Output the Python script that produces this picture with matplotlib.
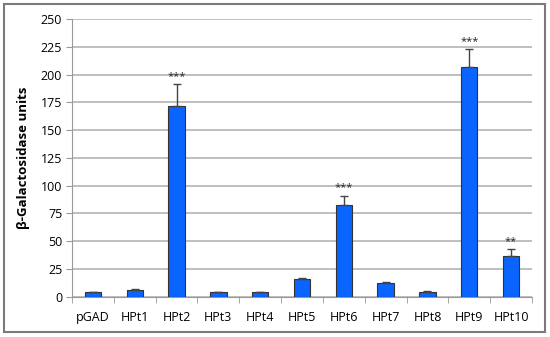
import matplotlib
matplotlib.use("Agg")
import matplotlib.pyplot as plt
from matplotlib.patches import Rectangle
import numpy as np

categories = ["pGAD", "HPt1", "HPt2", "HPt3", "HPt4", "HPt5", "HPt6", "HPt7", "HPt8", "HPt9", "HPt10"]
values = [4.0, 6.3, 172, 3.8, 3.8, 16.2, 82.5, 12.4, 4.6, 206.5, 37]
errors = [0.5, 0.5, 19.5, 0.4, 0.4, 1.0, 8.5, 0.4, 0.4, 16.5, 5.8]
stars = ["", "", "***", "", "", "", "***", "", "", "***", "**"]
yticks = [0, 25, 50, 75, 100, 125, 150, 175, 200, 225, 250]

plt.rcParams['font.family'] = ['Open Sans', 'DejaVu Sans']

fig = plt.figure(figsize=(5.5, 3.37), dpi=100)
fig.patches.append(Rectangle((4/550, 1-332/337), 541/550, 328/337, transform=fig.transFigure,
                             fill=False, edgecolor='#7a7a7a', linewidth=1.5))
ax = fig.add_axes([72/550, 1-296.7/337, 460/550, (296.7-19)/337])

x = np.arange(len(categories))
ax.bar(x, values, width=0.39, color='#0a64ff', edgecolor='#333333', linewidth=0.8, zorder=3)
ax.errorbar(x, values, yerr=[np.zeros(len(errors)), errors], fmt='none', ecolor='#444444',
            elinewidth=1.0, capsize=3, capthick=1.0, zorder=4)
for xi, v, e, s in zip(x, values, errors, stars):
    if s:
        ax.text(xi, v + e + 2, s, ha='center', va='bottom', fontsize=8, color='#222222')

ax.set_xlim(-0.5, len(categories) - 0.5)
ax.set_ylim(0, 250)
ax.set_yticks(yticks)
ax.set_yticklabels([str(t) for t in yticks], fontsize=9)
ax.yaxis.grid(True, color='#b4b4b4', linewidth=1.2, zorder=0)
ax.set_axisbelow(True)
ax.set_xticks(x)
ax.set_xticklabels(categories, fontsize=9)
ax.tick_params(axis='x', length=0, pad=10)
ax.set_xticks(np.arange(-0.5, len(categories)), minor=True)
ax.tick_params(axis='x', which='minor', length=4, color='#999999')
ax.tick_params(axis='y', length=4, color='#999999', pad=3)
for sp in ['top', 'right']:
    ax.spines[sp].set_visible(False)
ax.spines['left'].set_color('#999999')
ax.spines['bottom'].set_color('#999999')
ax.set_ylabel("β-Galactosidase units", fontsize=9.5, fontweight='bold', labelpad=8)

fig.savefig("out.png", dpi=100)
